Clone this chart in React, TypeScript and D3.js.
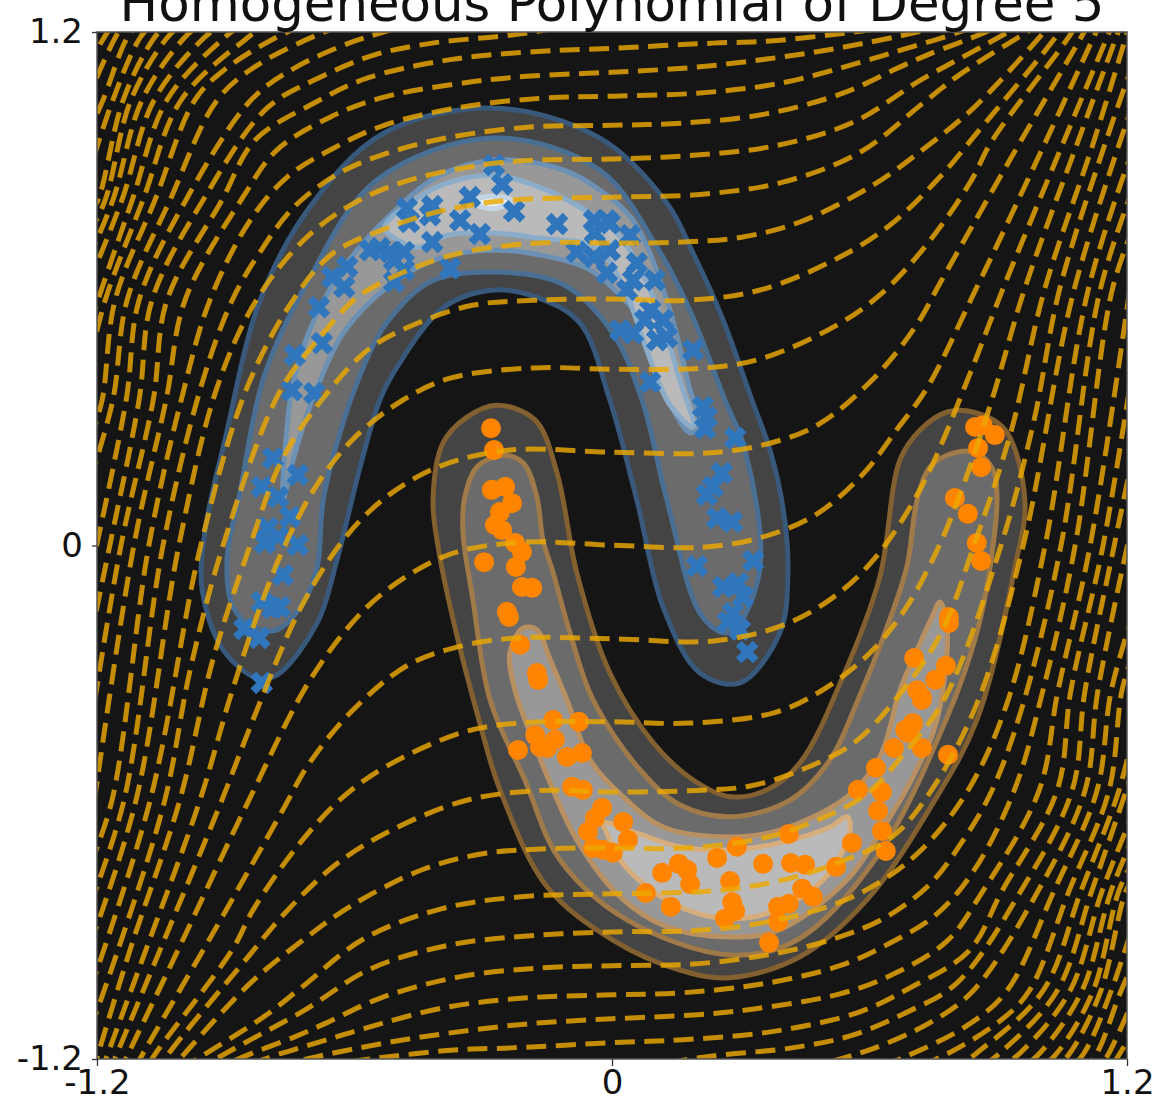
import * as d3 from "d3";
import { useEffect, useRef } from "react";

type Pt = [number, number];

const width = 1159;
const height = 1103;
const margin = { top: 32, right: 32, bottom: 44, left: 97 };

const titleText = "Homogeneous Polynomial of Degree 5";
const tickValues = [-1.2, 0, 1.2];

// zero level of the decision function
const zeroLevel: Pt[] = [[-1.151,-1.237],[-1.011,-.945],[-.846,-.595],[-.699,-.307],[-.571,-.144],[-.454,-.057],[-.354,-.013],[-.198,.008],[-.005,.001],[.212,-.004],[.345,.018],[.473,.071],[.583,.165],[.666,.274],[.734,.368],[.846,.595],[1.011,.945],[1.128,1.2],[1.149,1.244]];

const upperLevels: Pt[][] = [
  [[-1.174,-1.237],[-1.053,-.945],[-.909,-.595],[-.832,-.396],[-.722,-.139],[-.613,.029],[-.513,.123],[-.394,.188],[-.238,.223],[0,.218],[.221,.216],[.352,.235],[.478,.281],[.61,.391],[.708,.513],[.767,.618],[.927,.901],[1.1,1.2],[1.123,1.244]],
  [[-1.193,-1.237],[-1.086,-.945],[-.96,-.595],[-.89,-.356],[-.825,-.158],[-.762,.001],[-.685,.146],[-.599,.253],[-.487,.34],[-.377,.391],[-.182,.415],[0,.412],[.221,.415],[.352,.438],[.524,.515],[.629,.59],[.734,.704],[.836,.851],[.885,.945],[1.072,1.2],[1.095,1.244]],
  [[-1.212,-1.237],[-1.123,-.945],[-1.007,-.595],[-.93,-.267],[-.843,.001],[-.767,.204],[-.671,.347],[-.564,.461],[-.447,.522],[-.322,.562],[-.182,.573],[0,.576],[.175,.573],[.345,.597],[.531,.674],[.648,.749],[.764,.861],[.846,.959],[1.042,1.2],[1.067,1.244]],
  [[-1.216,-1.132],[-1.151,-.945],[-1.042,-.595],[-.983,-.291],[-.906,.001],[-.776,.356],[-.68,.487],[-.594,.58],[-.485,.639],[-.356,.683],[-.168,.707],[0,.707],[.165,.709],[.305,.721],[.438,.756],[.608,.842],[.729,.929],[.844,1.024],[1.007,1.2],[1.044,1.244]],
  [[-1.216,-1.038],[-1.076,-.595],[-.958,.001],[-.85,.37],[-.739,.58],[-.65,.683],[-.524,.742],[-.389,.784],[-.238,.807],[0,.814],[.212,.821],[.398,.849],[.578,.919],[.725,1.034],[.811,1.101],[.967,1.2],[1.032,1.24]],
  [[-1.216,-.933],[-1.109,-.595],[-1.009,.001],[-.92,.37],[-.829,.573],[-.718,.714],[-.61,.795],[-.494,.847],[-.308,.889],[-.168,.901],[0,.903],[.189,.912],[.375,.933],[.562,.989],[.718,1.087],[.846,1.157],[.923,1.2],[.997,1.244]],
  [[-1.216,-.84],[-1.137,-.595],[-1.046,.001],[-.955,.38],[-.885,.573],[-.82,.686],[-.741,.791],[-.636,.87],[-.517,.919],[-.377,.954],[-.191,.978],[0,.982],[.165,.987],[.356,1.008],[.538,1.057],[.664,1.115],[.734,1.146],[.871,1.2],[.951,1.24]],
  [[-1.216,-.746],[-1.165,-.595],[-1.079,.001],[-1.002,.347],[-.937,.573],[-.843,.76],[-.757,.861],[-.648,.929],[-.531,.982],[-.354,1.024],[-.168,1.045],[0,1.05],[.198,1.057],[.391,1.08],[.578,1.129],[.671,1.157],[.809,1.2],[.904,1.24]],
  [[-1.216,-.665],[-1.114,.001],[-1.039,.34],[-.995,.573],[-.86,.814],[-.781,.924],[-.657,1.001],[-.531,1.048],[-.331,1.083],[-.191,1.097],[0,1.106],[.198,1.118],[.391,1.141],[.536,1.164],[.711,1.2],[.811,1.228]],
  [[-1.216,-.431],[-1.144,.001],[-1.069,.34],[-1.037,.573],[-.909,.807],[-.832,.947],[-.694,1.034],[-.571,1.092],[-.373,1.136],[-.165,1.155],[0,1.162],[.235,1.174],[.368,1.179],[.564,1.2],[.671,1.216]],
  [[-1.216,-.221],[-1.17,.001],[-1.102,.34],[-1.072,.573],[-.953,.807],[-.804,1.022],[-.68,1.094],[-.555,1.146],[-.419,1.174],[-.217,1.195],[-.028,1.228]],
  [[-1.216,-.069],[-1.132,.34],[-1.102,.573],[-.993,.807],[-.841,1.041],[-.741,1.115],[-.613,1.174],[-.548,1.195],[-.401,1.239]],
  [[-1.216,.153],[-1.163,.34],[-1.13,.573],[-1.03,.807],[-.92,1.041],[-.827,1.122],[-.687,1.193],[-.564,1.239]],
  [[-1.216,.246],[-1.188,.34],[-1.158,.573],[-1.065,.807],[-.972,1.041],[-.904,1.111],[-.781,1.188],[-.68,1.232]],
  [[-1.216,.433],[-1.181,.573],[-1.093,.807],[-1.004,1.041],[-.85,1.186],[-.774,1.239]],
  [[-1.216,.515],[-1.198,.573],[-1.118,.807],[-1.037,1.041],[-.904,1.186],[-.832,1.239]],
  [[-1.221,.609],[-1.142,.807],[-1.067,1.041],[-.951,1.186],[-.878,1.239]],
  [[-1.221,.667],[-1.163,.807],[-1.095,1.041],[-.997,1.186],[-.932,1.239]],
  [[-1.221,.725],[-1.181,.807],[-1.121,1.041],[-1.037,1.186],[-.979,1.239]],
  [[-1.221,.772],[-1.198,.807],[-1.139,1.041],[-1.067,1.186],[-1.016,1.239]],
  [[-1.228,.842],[-1.163,1.041],[-1.1,1.186],[-1.053,1.239]],
  [[-1.228,.947],[-1.186,1.041],[-1.13,1.186],[-1.088,1.239]],
  [[-1.228,1.029],[-1.158,1.186],[-1.123,1.239]],
  [[-1.228,1.111],[-1.184,1.186],[-1.151,1.239]],
  [[-1.228,1.146],[-1.165,1.239]],
];

// the negative levels in the picture mirror the positive ones through the origin
const lowerLevels: Pt[][] = upperLevels.map((line) =>
  line.map(([x, y]) => [-x, -y] as Pt),
);

const blueBands: Pt[][] = [
  [[-.827,-.31],[-.906,-.244],[-.955,-.104],[-.948,.036],[-.902,.246],[-.82,.573],[-.704,.791],[-.531,.964],[-.275,1.022],[-.028,.952],[.128,.8],[.189,.683],[.256,.534],[.326,.34],[.368,.223],[.398,.09],[.41,-.057],[.391,-.204],[.298,-.321],[.205,-.298],[.119,-.144],[.058,.106],[-.005,.34],[-.075,.52],[-.175,.58],[-.275,.597],[-.391,.557],[-.501,.417],[-.541,.34],[-.587,.183],[-.641,-.034],[-.687,-.181],[-.781,-.303]],
  [[-.836,-.19],[-.883,-.144],[-.897,-.034],[-.867,.123],[-.811,.394],[-.711,.613],[-.548,.854],[-.275,.952],[-.028,.877],[.105,.697],[.182,.548],[.263,.34],[.31,.223],[.345,-.05],[.291,-.19],[.259,-.204],[.205,-.158],[.128,.106],[.07,.34],[.002,.496],[-.112,.609],[-.275,.639],[-.424,.616],[-.529,.515],[-.587,.398],[-.634,.263],[-.673,.106],[-.687,-.05],[-.72,-.134],[-.781,-.197]],
  [[-.767,.106],[-.75,.34],[-.734,.417],[-.694,.527],[-.624,.651],[-.517,.772],[-.408,.861],[-.275,.901],[-.112,.877],[-.028,.83],[.049,.76],[.128,.573],[.182,.363],[.205,.281],[.182,.263],[.123,.363],[.089,.503],[.03,.573],[-.051,.644],[-.168,.679],[-.275,.69],[-.401,.672],[-.517,.609],[-.622,.503],[-.68,.387],[-.715,.293],[-.743,.2]],
  [[-.529,.742],[-.461,.807],[-.384,.847],[-.275,.865],[-.168,.837],[-.075,.791],[.012,.73],[.089,.597],[.158,.387],[.189,.277],[.135,.328],[.077,.468],[.03,.597],[-.035,.695],[-.168,.718],[-.275,.73],[-.384,.725],[-.454,.697]],
  [[-.331,.803],[-.284,.816],[-.233,.807],[-.273,.787]],
];

const orangeBands: Pt[][] = [
  [[-.268,.328],[-.338,.3],[-.394,.239],[-.417,.106],[-.405,-.004],[-.37,-.174],[-.308,-.415],[-.261,-.571],[-.151,-.798],[.002,-.922],[.158,-.992],[.275,-1.01],[.438,-.961],[.594,-.828],[.748,-.602],[.85,-.408],[.939,-.05],[.962,.106],[.916,.27],[.841,.312],[.781,.312],[.718,.27],[.671,.2],[.624,-.074],[.538,-.307],[.438,-.508],[.361,-.571],[.275,-.587],[.189,-.548],[.096,-.461],[-.005,-.298],[-.082,-.064],[-.128,.169],[-.179,.293]],
  [[-.254,.211],[-.315,.183],[-.343,.113],[-.347,.029],[-.324,-.127],[-.284,-.361],[-.203,-.548],[-.121,-.735],[.035,-.875],[.275,-.957],[.431,-.922],[.617,-.728],[.781,-.401],[.85,-.204],[.881,-.05],[.897,.113],[.888,.176],[.85,.216],[.795,.216],[.741,.183],[.711,.106],[.687,-.05],[.641,-.19],[.573,-.361],[.508,-.501],[.415,-.595],[.275,-.634],[.158,-.606],[.065,-.524],[-.044,-.361],[-.098,-.204],[-.137,-.064],[-.161,.013],[-.175,.113],[-.207,.193]],
  [[-.207,-.193],[-.238,-.251],[-.226,-.338],[-.191,-.438],[-.144,-.555],[-.082,-.688],[.019,-.821],[.128,-.891],[.275,-.915],[.391,-.898],[.548,-.781],[.624,-.672],[.701,-.541],[.757,-.408],[.781,-.19],[.764,-.132],[.746,-.167],[.711,-.244],[.671,-.338],[.624,-.494],[.548,-.587],[.391,-.665],[.275,-.681],[.119,-.658],[.026,-.587],[-.051,-.501],[-.105,-.361],[-.144,-.267],[-.175,-.197]],
  [[-.021,-.648],[.058,-.672],[.158,-.704],[.282,-.711],[.391,-.695],[.508,-.658],[.548,-.634],[.555,-.66],[.531,-.728],[.492,-.781],[.431,-.828],[.329,-.868],[.235,-.868],[.158,-.844],[.082,-.798],[.019,-.735],[-.012,-.672]],
];

const bandFills = ["#444444", "#6b6b6b", "#989898", "#bababa", "#e6ecf2"];
const blueEdges = ["#38597c", "#4a6f95", "#6d91b4", "#8cadca", "#c4d6e6"];
const orangeEdges = ["#83602f", "#a07a48", "#b99061", "#d8ad7c"];

const orangePoints: Pt[] = [[-.282,.274],[-.275,.223],[-.28,.13],[-.249,.137],[-.233,.099],[-.261,.078],[-.273,.048],[-.256,.036],[-.226,.006],[-.21,-.015],[-.298,-.039],[-.224,-.05],[-.21,-.097],[-.186,-.099],[-.245,-.155],[-.24,-.167],[-.214,-.232],[-.175,-.298],[-.172,-.314],[-.137,-.408],[-.077,-.412],[-.179,-.443],[-.219,-.478],[-.133,-.454],[-.168,-.471],[-.151,-.473],[-.105,-.494],[-.07,-.485],[-.093,-.564],[-.068,-.571],[-.023,-.613],[-.04,-.637],[-.056,-.669],[.026,-.646],[.037,-.688],[-.044,-.707],[-.021,-.711],[.002,-.718],[.117,-.765],[.156,-.744],[.175,-.758],[.182,-.791],[.245,-.73],[.291,-.704],[.275,-.784],[.079,-.812],[.137,-.844],[.28,-.833],[.287,-.854],[.263,-.872],[.352,-.744],[.412,-.674],[.417,-.742],[.45,-.746],[.443,-.802],[.468,-.821],[.387,-.844],[.412,-.837],[.387,-.879],[.366,-.928],[.522,-.751],[.559,-.695],[.573,-.571],[.615,-.52],[.629,-.576],[.62,-.62],[.629,-.667],[.638,-.714],[.657,-.473],[.683,-.431],[.701,-.417],[.69,-.438],[.722,-.473],[.783,-.489],[.722,-.361],[.846,.277],[.864,.281],[.892,.258],[.853,.228],[.86,.183],[.799,.111],[.829,.074],[.85,.006],[.86,-.036],[.785,-.167],[.785,-.181],[.704,-.263],[.778,-.281],[.753,-.314],[.711,-.338],[.722,-.354],[.701,-.415]];

const bluePoints: Pt[] = [[-.275,.889],[-.256,.844],[-.331,.814],[-.228,.781],[-.478,.788],[-.473,.756],[-.419,.793],[-.424,.772],[-.354,.76],[-.308,.728],[-.419,.709],[-.128,.751],[-.042,.76],[-.012,.76],[-.04,.73],[-.564,.69],[-.541,.695],[-.517,.686],[-.485,.686],[-.508,.667],[-.617,.651],[-.652,.627],[-.624,.604],[-.508,.616],[-.485,.644],[-.377,.648],[-.683,.557],[-.676,.473],[-.739,.445],[-.746,.363],[-.694,.356],[-.082,.686],[-.042,.674],[-.012,.637],[-.005,.753],[.042,.725],[-.005,.69],[.058,.66],[.1,.62],[.049,.62],[.089,.55],[.119,.527],[.019,.503],[.105,.48],[.189,.457],[.128,.487],[.089,.382],[.049,.496],[.035,.597],[.077,.527],[.212,.324],[.221,.3],[.217,.274],[.287,.251],[.256,.169],[.235,.137],[.221,.118],[.245,.064],[.28,.055],[.198,-.048],[.329,-.036],[.259,-.097],[.294,-.088],[.305,-.12],[.282,-.158],[.27,-.179],[.298,-.197],[.315,-.249],[-.79,.204],[-.732,.165],[-.816,.137],[-.778,.113],[-.75,.067],[-.802,.041],[-.778,.02],[-.809,.006],[-.732,.001],[-.767,-.069],[-.816,-.132],[-.792,-.146],[-.774,-.144],[-.857,-.195],[-.822,-.216],[-.816,-.321]];

export default function App() {
  const svgRef = useRef<SVGSVGElement>(null);

  useEffect(() => {
    if (!svgRef.current) return;
    const svg = d3.select(svgRef.current);
    svg.selectAll("*").remove();

    const x = d3.scaleLinear().domain([-1.2, 1.2]).range([margin.left, width - margin.right]);
    const y = d3.scaleLinear().domain([-1.2, 1.2]).range([height - margin.bottom, margin.top]);
    const plotW = x(1.2) - x(-1.2);
    const plotH = y(-1.2) - y(1.2);

    svg
      .append("defs")
      .append("clipPath")
      .attr("id", "plot-clip")
      .append("rect")
      .attr("x", x(-1.2))
      .attr("y", y(1.2))
      .attr("width", plotW)
      .attr("height", plotH);

    const g = svg.append("g").attr("clip-path", "url(#plot-clip)");

    g.append("rect")
      .attr("x", x(-1.2))
      .attr("y", y(1.2))
      .attr("width", plotW)
      .attr("height", plotH)
      .attr("fill", "#151515");

    // Filled bands of both moons
    const closed = d3
      .line<Pt>()
      .x((d) => x(d[0]))
      .y((d) => y(d[1]))
      .curve(d3.curveCatmullRomClosed.alpha(0.5));

    const drawBands = (bands: Pt[][], edges: string[]) => {
      bands.forEach((band, i) => {
        g.append("path")
          .attr("d", closed(band))
          .attr("fill", bandFills[i])
          .attr("stroke", edges[i])
          .attr("stroke-width", 5)
          .attr("stroke-linejoin", "round");
      });
    };
    drawBands(blueBands, blueEdges);
    drawBands(orangeBands, orangeEdges);

    // Samples
    const cross = d3.symbol().type(d3.symbolCross).size(320)();
    g.selectAll(".blue")
      .data(bluePoints)
      .enter()
      .append("path")
      .attr("class", "blue")
      .attr("d", cross)
      .attr("transform", (d) => `translate(${x(d[0])},${y(d[1])}) rotate(45)`)
      .attr("fill", "#3076bd");

    g.selectAll(".orange")
      .data(orangePoints)
      .enter()
      .append("circle")
      .attr("class", "orange")
      .attr("cx", (d) => x(d[0]))
      .attr("cy", (d) => y(d[1]))
      .attr("r", 10)
      .attr("fill", "#ff8500");

    // Dashed level lines
    const open = d3
      .line<Pt>()
      .x((d) => x(d[0]))
      .y((d) => y(d[1]))
      .curve(d3.curveCatmullRom.alpha(0.5));

    g.selectAll(".level")
      .data([zeroLevel, ...upperLevels, ...lowerLevels])
      .enter()
      .append("path")
      .attr("class", "level")
      .attr("d", (d) => open(d))
      .attr("fill", "none")
      .attr("stroke", "#eca800")
      .attr("stroke-opacity", 0.82)
      .attr("stroke-width", 5)
      .attr("stroke-dasharray", "20 9.5");

    // Frame and axes
    svg
      .append("rect")
      .attr("x", x(-1.2))
      .attr("y", y(1.2))
      .attr("width", plotW)
      .attr("height", plotH)
      .attr("fill", "none")
      .attr("stroke", "#555")
      .attr("stroke-width", 1.5);

    const fmt = (d: d3.NumberValue) => String(d);
    const xAxis = svg
      .append("g")
      .attr("transform", `translate(0,${y(-1.2)})`)
      .call(d3.axisBottom(x).tickValues(tickValues).tickFormat(fmt).tickSize(7).tickPadding(4));
    const yAxis = svg
      .append("g")
      .attr("transform", `translate(${x(-1.2)},0)`)
      .call(d3.axisLeft(y).tickValues(tickValues).tickFormat(fmt).tickSize(5).tickPadding(9));

    [xAxis, yAxis].forEach((axis) => {
      axis.select(".domain").remove();
      axis.selectAll(".tick line").attr("stroke", "#333").attr("stroke-width", 1.3);
      axis
        .selectAll("text")
        .style("font-family", "DejaVu Sans")
        .style("font-size", "34px")
        .attr("fill", "#111");
    });

    svg
      .append("text")
      .attr("x", x(0))
      .attr("y", 21)
      .attr("text-anchor", "middle")
      .style("font-family", "DejaVu Sans")
      .style("font-size", "51.4px")
      .attr("fill", "#111")
      .text(titleText);
  }, []);

  return (
    <svg
      ref={svgRef}
      width={width}
      height={height}
      style={{ position: "absolute", left: 0, top: 0, background: "#fff" }}
    />
  );
}
